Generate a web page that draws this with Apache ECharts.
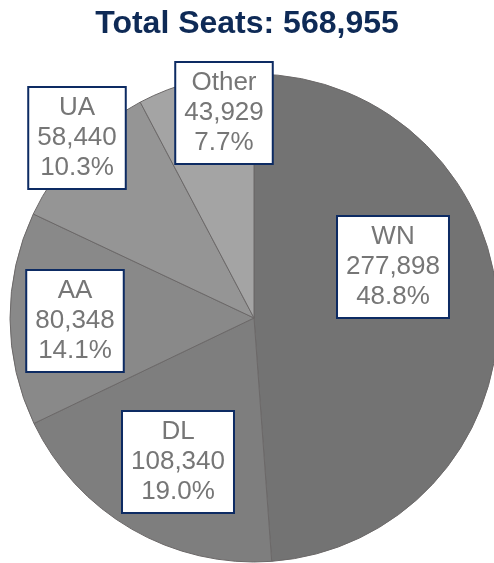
<!DOCTYPE html>
<html>
<head>
<meta charset="utf-8">
<script src="https://cdn.jsdelivr.net/npm/echarts@6/dist/echarts.min.js"></script>
<style>
  html, body { margin: 0; padding: 0; background: #fff; }
  #chart { width: 494px; height: 563px; }
</style>
</head>
<body>
<div id="chart"></div>
<script>
// carriers, clockwise from 12 o'clock
var carriers = ["WN", "DL", "AA", "UA", "Other"];
var seats = [277898, 108340, 80348, 58440, 43929];
var sliceColors = ["#737373", "#7e7e7e", "#898989", "#959595", "#a4a4a4"];
// label box centres (px), set by hand like the original
var labelPos = [[393, 267], [178, 462], [75, 321], [77, 138], [224, 113]];

var total = 0;
for (var i = 0; i < seats.length; i++) {
  total += seats[i];
}

var pieData = [];
for (var i = 0; i < carriers.length; i++) {
  pieData.push({
    name: carriers[i],
    value: seats[i],
    itemStyle: { color: sliceColors[i] }
  });
}

var chart = echarts.init(document.getElementById("chart"));
var option = {
  animation: false,
  title: {
    text: "Total Seats: " + echarts.format.addCommas(total),
    left: 242,
    textAlign: "center",
    top: 3,
    textStyle: {
      fontFamily: "Liberation Sans",
      fontSize: 32,
      fontWeight: "bold",
      color: "#0e2a56"
    }
  },
  series: [
    {
      type: "pie",
      center: [254, 318],
      radius: [0, 244],
      startAngle: 90,
      clockwise: true,
      data: pieData,
      itemStyle: {
        borderColor: "#6b6868",
        borderWidth: 1
      },
      emphasis: { disabled: true },
      labelLine: { show: false },
      label: {
        show: true,
        position: "inside",
        formatter: function (p) {
          return p.name + "\n" + echarts.format.addCommas(p.value) + "\n" +
            (p.value / total * 100).toFixed(1) + "%";
        },
        fontFamily: "Liberation Sans",
        fontSize: 26,
        lineHeight: 30,
        color: "#767676",
        align: "center",
        backgroundColor: "#ffffff",
        borderColor: "#0d2b63",
        borderWidth: 2,
        padding: [5, 8, 5, 8]
      },
      labelLayout: function (params) {
        var pos = labelPos[params.dataIndex];
        return {
          x: pos[0],
          y: pos[1],
          align: "center",
          verticalAlign: "middle"
        };
      }
    }
  ]
};
chart.setOption(option);
window.addEventListener("resize", function () {
  chart.resize();
});
</script>
</body>
</html>
